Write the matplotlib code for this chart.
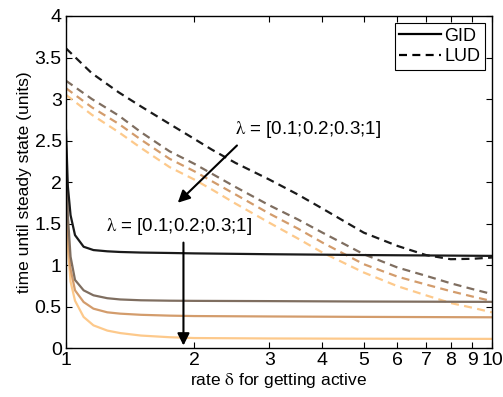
import matplotlib
matplotlib.use("Agg")
import matplotlib.pyplot as plt
from matplotlib.ticker import FixedLocator, NullLocator, FixedFormatter
from matplotlib.lines import Line2D

plt.rcParams['font.family'] = ['Liberation Sans', 'DejaVu Sans']
plt.rcParams['mathtext.fontset'] = 'stix'

# GID (solid) data
x_gid = [1, 1.01, 1.025, 1.05, 1.1, 1.16, 1.25, 1.34, 1.5, 1.75, 2, 3, 5, 10]
gid_l1 = [2.62, 1.95, 1.60, 1.36, 1.22, 1.18, 1.165, 1.157, 1.15, 1.145, 1.14, 1.13, 1.12, 1.11]
gid_l2 = [2.46, 1.60, 1.10, 0.82, 0.695, 0.635, 0.60, 0.585, 0.575, 0.57, 0.568, 0.565, 0.56, 0.556]
gid_l3 = [2.20, 1.40, 0.95, 0.695, 0.554, 0.474, 0.43, 0.414, 0.40, 0.39, 0.385, 0.38, 0.375, 0.37]
gid_l4 = [1.88, 1.20, 0.80, 0.57, 0.374, 0.273, 0.21, 0.18, 0.15, 0.13, 0.12, 0.115, 0.112, 0.11]

# LUD (dashed) data
x_lud = [1, 1.15, 1.33, 1.5, 1.75, 2, 2.2, 2.5, 3, 3.5, 4, 5, 6, 7, 8, 9, 10]
lud_l1 = [3.61, 3.31, 3.08, 2.91, 2.70, 2.52, 2.39, 2.23, 2.03, 1.85, 1.68, 1.39, 1.23, 1.12, 1.07, 1.075, 1.09]
lud_l2 = [3.22, 3.00, 2.80, 2.60, 2.37, 2.22, 2.10, 1.94, 1.72, 1.55, 1.39, 1.13, 0.97, 0.87, 0.78, 0.71, 0.65]
lud_l3 = [3.13, 2.90, 2.70, 2.51, 2.28, 2.13, 2.01, 1.85, 1.62, 1.44, 1.27, 1.01, 0.86, 0.765, 0.685, 0.62, 0.565]
lud_l4 = [3.05, 2.81, 2.60, 2.41, 2.18, 2.03, 1.91, 1.74, 1.51, 1.32, 1.15, 0.91, 0.745, 0.635, 0.542, 0.485, 0.43]

colors = ['#1a1a1a', '#7f6e60', '#d39c6c', '#fdc98b']
x_ticks = [1, 2, 3, 4, 5, 6, 7, 8, 9, 10]
x_tick_labels = ['1', '2', '3', '4', '5', '6', '7', '8', '9', '10']
y_ticks = [0, 0.5, 1, 1.5, 2, 2.5, 3, 3.5, 4]
y_tick_labels = ['0', '0.5', '1', '1.5', '2', '2.5', '3', '3.5', '4']
ann_text = r'$\mathrm{\lambda}$ = [0.1;0.2;0.3;1]'

fig = plt.figure(figsize=(5.03, 3.97), dpi=100)
ax = fig.add_axes([0.1312, 0.1234, 0.8468, 0.8363])

gids = [gid_l1, gid_l2, gid_l3, gid_l4]
luds = [lud_l1, lud_l2, lud_l3, lud_l4]
for i in range(3, -1, -1):
    ax.plot(x_lud, luds[i], color=colors[i], lw=1.6, dashes=(3.6, 2.4))
for i in range(3, -1, -1):
    ax.plot(x_gid, gids[i], color=colors[i], lw=1.6)

ax.set_xscale('log')
ax.set_xlim(1, 10)
ax.set_ylim(0, 4)
ax.xaxis.set_major_locator(FixedLocator(x_ticks))
ax.xaxis.set_major_formatter(FixedFormatter(x_tick_labels))
ax.xaxis.set_minor_locator(NullLocator())
ax.set_yticks(y_ticks)
ax.set_yticklabels(y_tick_labels)
ax.tick_params(direction='in', top=True, right=True, labelsize=14, length=4, width=0.8, pad=3)
for s in ax.spines.values():
    s.set_linewidth(1.0)

ax.set_xlabel(r'rate $\mathrm{\delta}$ for getting active', fontsize=12.5, labelpad=1)
ax.set_ylabel('time until steady state (units)', fontsize=12.5, labelpad=2)

handles = [Line2D([], [], color='k', lw=1.6),
           Line2D([], [], color='k', lw=1.6, dashes=(3.6, 2.4))]
leg = ax.legend(handles, ['GID', 'LUD'], loc='upper right', fontsize=13,
                frameon=True, fancybox=False, edgecolor='k', framealpha=1,
                handlelength=2.3, handletextpad=0.2, borderpad=0.25,
                labelspacing=0.2, borderaxespad=0.4)
leg.get_frame().set_linewidth(0.8)

arrow = dict(arrowstyle='-|>', color='k', lw=1.5, mutation_scale=18, shrinkA=0, shrinkB=0)
ax.annotate('', xy=(1.83, 1.75), xytext=(2.52, 2.44), arrowprops=arrow)
ax.text(2.50, 2.63, ann_text, fontsize=13.5, ha='left', va='center')
ax.annotate('', xy=(1.887, 0.03), xytext=(1.887, 1.27), arrowprops=arrow)
ax.text(1.24, 1.46, ann_text, fontsize=13.5, ha='left', va='center')

fig.savefig('out.png', dpi=100)
